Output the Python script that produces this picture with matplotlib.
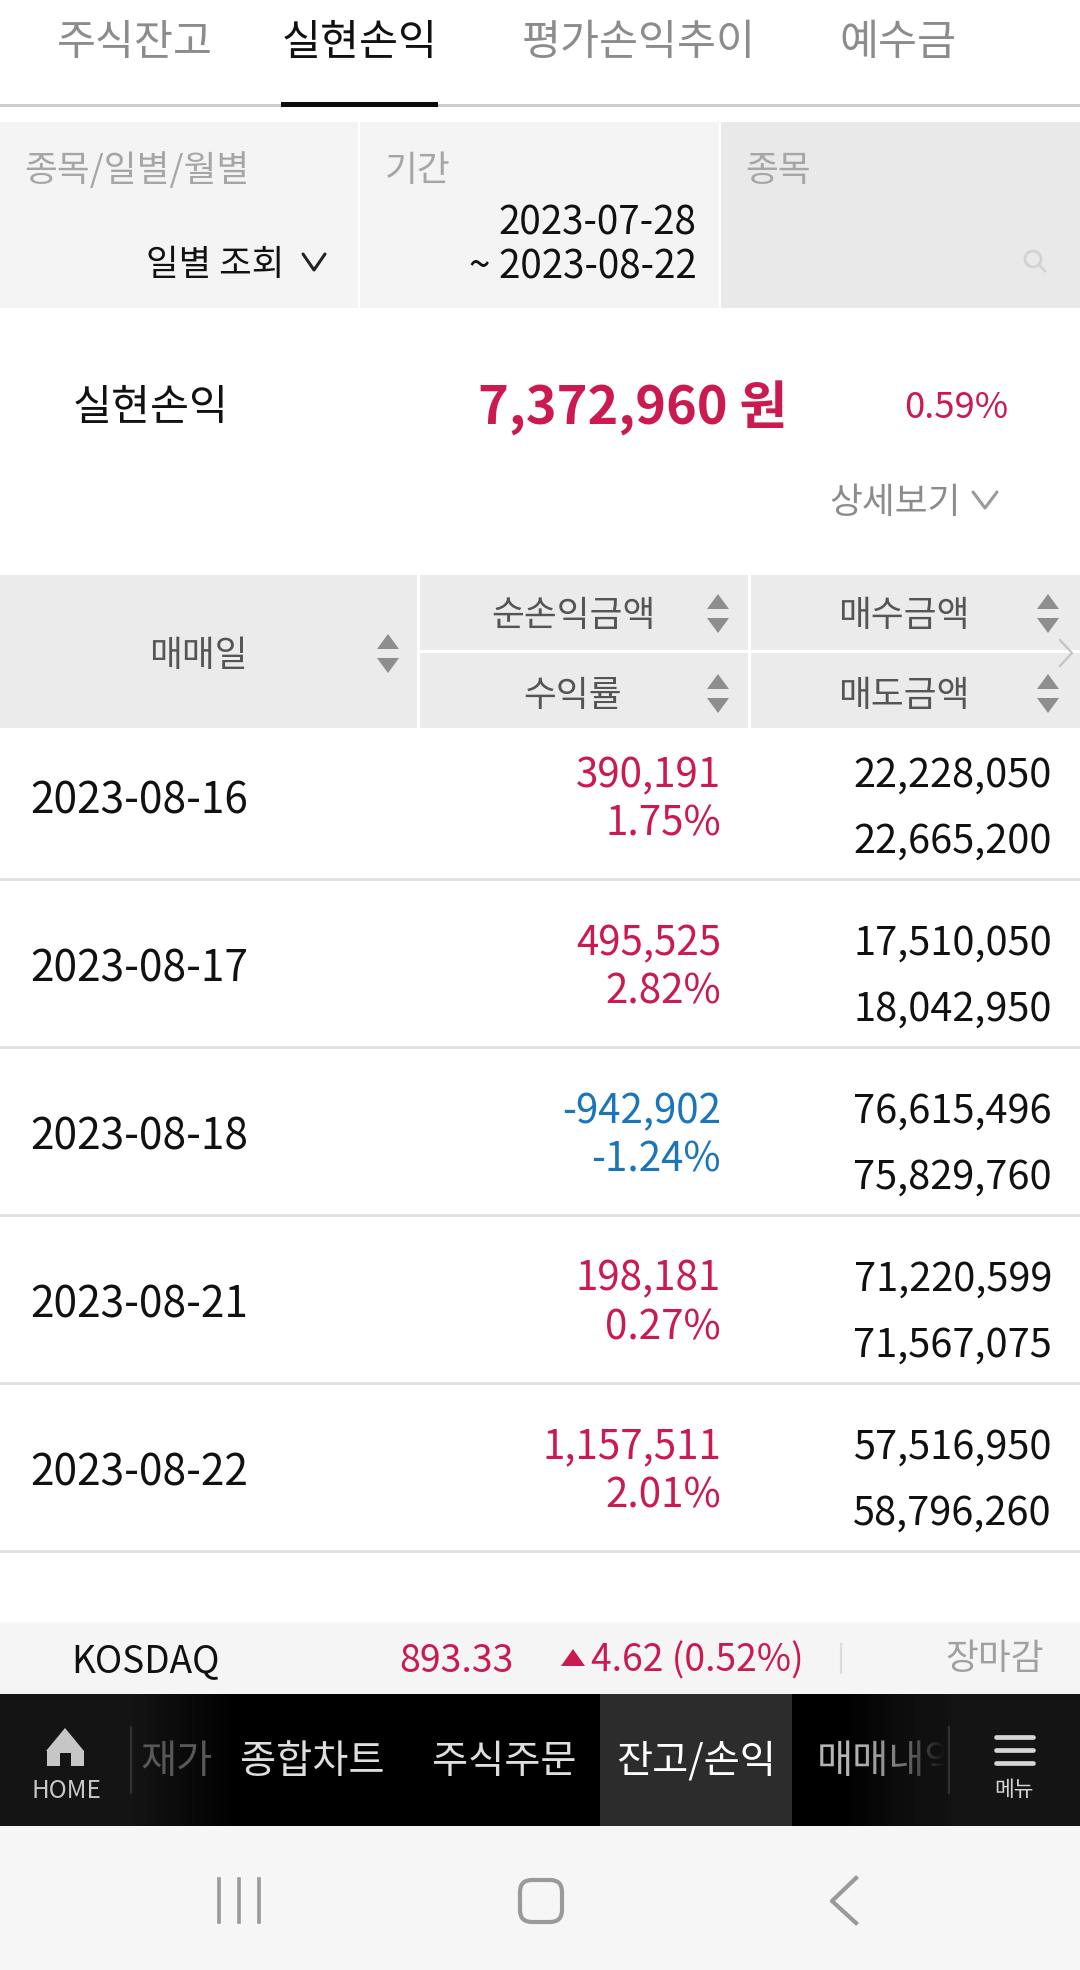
import numpy as np
import matplotlib
matplotlib.use("Agg")
import matplotlib.pyplot as plt
from matplotlib.patches import Rectangle, Polygon, FancyBboxPatch, Circle
from matplotlib.colors import LinearSegmentedColormap

plt.rcParams['font.family'] = ['Noto Sans CJK KR', 'DejaVu Sans']

# ---- data ----
tabs = ['주식잔고', '실현손익', '평가손익추이', '예수금']
dates = ['2023-08-16', '2023-08-17', '2023-08-18', '2023-08-21', '2023-08-22']
net_profit = [390191, 495525, -942902, 198181, 1157511]
returns = [1.75, 2.82, -1.24, 0.27, 2.01]
buy_amount = [22228050, 17510050, 76615496, 71220599, 57516950]
sell_amount = [22665200, 18042950, 75829760, 71567075, 58796260]
total_profit = 7372960
total_return = 0.59
kosdaq = 893.33
kosdaq_change = 4.62
kosdaq_pct = 0.52
nav_items = ['종합차트', '주식주문', '잔고/손익']

RED = '#cb1a50'
BLUE = '#1b75b9'
GREY = '#9a9a9a'
DARK = '#111111'

fig = plt.figure(figsize=(10.8, 19.7), dpi=100, facecolor='white')
ax = fig.add_axes([0, 0, 1, 1])
ax.set_xlim(0, 1080)
ax.set_ylim(1970, 0)
ax.axis('off')


def rect(x0, y0, x1, y1, color, z=1):
    ax.add_patch(Rectangle((x0, y0), x1 - x0, y1 - y0, fc=color, ec='none', zorder=z))


def txt(x, y, s, size, color=DARK, ha='left', weight='normal', z=5):
    return ax.text(x, y, s, fontsize=size, color=color, ha=ha, va='center_baseline',
                   fontweight=weight, zorder=z)


def chevron(x, y, w, h, color, lw=2.2):
    ax.plot([x - w, x, x + w], [y - h, y + h, y - h], color=color, lw=lw, zorder=5,
            solid_capstyle='round')


def sort_arrows(x, y):
    c = '#8e8e8e'
    ax.add_patch(Polygon([[x - 11, y - 3], [x + 11, y - 3], [x, y - 18]], fc=c, ec='none', zorder=5))
    ax.add_patch(Polygon([[x - 11, y + 6], [x + 11, y + 6], [x, y + 21]], fc=c, ec='none', zorder=5))


# tabs
tab_x = [135, 359.5, 639, 898]
for i, (t, x) in enumerate(zip(tabs, tab_x)):
    txt(x, 38, t, 30.5, DARK if i == 1 else '#8c8c8c', ha='center',
        weight='medium' if i == 1 else 'normal')
rect(0, 104, 1080, 107, '#cccccc')
rect(281, 102, 438, 107, '#0c0c0c', 2)

# filter panel
rect(0, 122, 358, 308, '#f4f4f4')
rect(360, 122, 719, 308, '#f4f4f4')
rect(721, 122, 1080, 308, '#e9e9e9')
txt(24, 167, '종목/일별/월별', 25.7, '#a6a6a6')
txt(385, 167, '기간', 25.7, '#a6a6a6')
txt(745, 167, '종목', 25.7, '#a6a6a6')
txt(284, 261, '일별 조회', 25.5, DARK, ha='right')
chevron(314, 262, 11, 8, '#222222')
txt(696.5, 219, '2023-07-28', 27.8, DARK, ha='right')
txt(696.5, 263, '~ 2023-08-22', 27.8, DARK, ha='right')
ax.add_patch(Circle((1033, 259), 8, fc='none', ec='#d2d2d2', lw=2, zorder=5))
ax.plot([1039, 1045], [265, 271], color='#d2d2d2', lw=2, zorder=5)

# summary
txt(73, 403, '실현손익', 30.5, DARK, weight='medium')
txt(787, 403, f'{total_profit:,} 원', 37.6, RED, ha='right', weight='bold')
txt(1008, 404, f'{total_return:.2f}%', 26.2, RED, ha='right')
txt(829, 499, '상세보기', 25.7, '#8c8c8c')
chevron(985, 500, 12, 8, '#9a9a9a')

# table header
rect(0, 575, 417, 728, '#ebebeb')
rect(420, 575, 748, 650, '#ebebeb')
rect(420, 653, 748, 728, '#ebebeb')
rect(751, 575, 1080, 650, '#ebebeb')
rect(751, 653, 1080, 728, '#ebebeb')
txt(198, 652, '매매일', 25.7, '#555555', ha='center')
txt(573, 612, '순손익금액', 25.7, '#555555', ha='center')
txt(573, 692, '수익률', 25.7, '#555555', ha='center')
txt(904, 612, '매수금액', 25.7, '#555555', ha='center')
txt(904, 692, '매도금액', 25.7, '#555555', ha='center')
sort_arrows(388, 652)
for sx in (718, 1048):
    sort_arrows(sx, 612)
    sort_arrows(sx, 692)
ax.plot([1060, 1072, 1060], [640, 653, 666], color='#c4c4c4', lw=1.6, zorder=6)

# table rows
row_h = 167.9
for i, (d, n, r, b, s) in enumerate(zip(dates, net_profit, returns, buy_amount, sell_amount)):
    top = i * row_h
    col = RED if n >= 0 else BLUE
    txt(30, 797 + top, d, 30.5, DARK)
    txt(721, 771 + top, f'{n:,}', 29, col, ha='right')
    txt(721, 820 + top, f'{r:.2f}%', 29, col, ha='right')
    txt(1052, 771 + top, f'{b:,}', 28.6, DARK, ha='right')
    txt(1052, 837 + top, f'{s:,}', 28.6, DARK, ha='right')
    rect(0, 878 + top, 1080, 881 + top, '#e2e2e2')

# KOSDAQ ticker
rect(0, 1622, 1080, 1694, '#f5f5f5')
txt(71, 1657, 'KOSDAQ', 26.6, DARK)
txt(514, 1657, f'{kosdaq:.2f}', 27, RED, ha='right')
ax.add_patch(Polygon([[561, 1666], [585, 1666], [573, 1649]], fc=RED, ec='none', zorder=5))
txt(591, 1657, f'{kosdaq_change:.2f} ({kosdaq_pct:.2f}%)', 26.8, RED)
ax.plot([841, 841], [1644, 1673], color='#dddddd', lw=1.5, zorder=5)
txt(1044, 1655, '장마감', 25.7, '#a0a0a0', ha='right')

# bottom nav
rect(0, 1694, 1080, 1826, '#000000')
rect(600, 1694, 792, 1826, '#2c2c2c', 2)
rect(0, 1694, 132, 1826, '#141414', 2)
rect(950, 1694, 1080, 1826, '#141414', 8)
grad_l = LinearSegmentedColormap.from_list('gl', ['#141414', '#000000'])
ax.imshow(np.linspace(0, 1, 64).reshape(1, -1), extent=(132, 240, 1826, 1694), aspect='auto',
          cmap=grad_l, zorder=2)
grad_r = LinearSegmentedColormap.from_list('gr', ['#000000', '#141414'])
ax.imshow(np.linspace(0, 1, 64).reshape(1, -1), extent=(840, 950, 1826, 1694), aspect='auto',
          cmap=grad_r, zorder=2)
txt(140, 1757, '재가', 28.3, '#585858', z=3)
txt(312, 1757, nav_items[0], 28.3, '#dedede', ha='center', weight='medium')
txt(504, 1757, nav_items[1], 28.3, '#dedede', ha='center', weight='medium')
txt(696, 1757, nav_items[2], 28.3, '#ffffff', ha='center', weight='medium')
txt(817, 1757, '매매내역', 28.3, '#b4b4b4', z=3)
# the last tab label fades into the gradient at the menu edge
fade_col = np.zeros((1, 64, 4))
fade_col[..., :3] = 0.065
fade_col[..., 3] = np.linspace(0, 1, 64) ** 1.5
ax.imshow(fade_col, extent=(850, 945, 1826, 1694), aspect='auto', zorder=4)
rect(945, 1694, 950, 1826, '#121212', 4)
ax.set_xlim(0, 1080)
ax.set_ylim(1970, 0)
for vx in (131, 949):
    ax.plot([vx, vx], [1727, 1793], color='#333333', lw=1.5, zorder=9)
# home icon
ax.add_patch(Polygon([[46, 1751], [65, 1728], [84, 1751], [84, 1766], [71, 1766], [71, 1753],
                      [60, 1753], [60, 1766], [47, 1766], [47, 1751]], fc='#c6c6c6', ec='none', zorder=9))
txt(66, 1788, 'HOME', 17.5, '#c8c8c8', ha='center', z=9, weight='medium')
for my in (1737, 1750, 1763):
    ax.plot([996, 1033], [my, my], color='#d5d5d5', lw=3.4, zorder=9, solid_capstyle='round')
txt(1014, 1788, '메뉴', 15.5, '#d5d5d5', ha='center', z=9, weight='medium')

# system bar
rect(0, 1826, 1080, 1970, '#f6f6f6')
for bx in (219, 239, 259):
    ax.plot([bx, bx], [1879, 1922], color='#9a9a9a', lw=2.6, zorder=5)
ax.add_patch(FancyBboxPatch((520, 1880), 42, 42, boxstyle='round,pad=0,rounding_size=12',
                            fc='none', ec='#9a9a9a', lw=3, zorder=5))
ax.plot([856, 832, 856], [1878, 1901, 1923], color='#9a9a9a', lw=3, zorder=5)

fig.savefig('out.png', dpi=100, facecolor='white')
